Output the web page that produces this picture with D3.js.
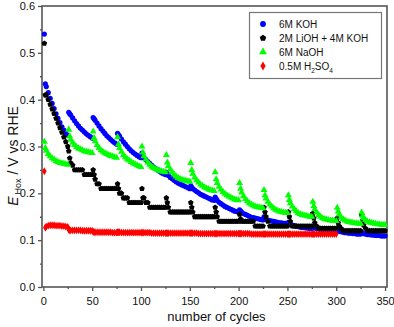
<!DOCTYPE html>
<html>
<head>
<meta charset="utf-8">
<script src="https://cdn.jsdelivr.net/npm/d3@7"></script>
<style>
  body { margin: 0; background: #fff; }
  svg { display: block; font-family: "Liberation Sans", Arial, sans-serif; }
</style>
</head>
<body>
<div id="chart"></div>
<script>

// cycle number = segment start + offset (14 samples per 25-cycle segment)
var segStarts = [1, 26, 51, 76, 101, 126, 151, 176, 201, 226, 251, 276, 301, 326];
var segOffsets = [0, 1, 2, 4, 6, 8, 10, 12, 14, 16, 18, 20, 22, 24];

var xTicks = [0, 50, 100, 150, 200, 250, 300, 350];
var yTicks = [0, 0.1, 0.2, 0.3, 0.4, 0.5, 0.6];

// E_Hox (V vs RHE), one row per segment
var kohValues = [
  [0.540,0.434,0.428,0.415,0.403,0.392,0.381,0.370,0.360,0.351,0.342,0.335,0.329,0.324],
  [0.373,0.370,0.367,0.361,0.355,0.349,0.344,0.339,0.335,0.331,0.327,0.324,0.321,0.318],
  [0.362,0.359,0.356,0.350,0.344,0.338,0.333,0.328,0.323,0.319,0.315,0.311,0.308,0.305],
  [0.328,0.325,0.322,0.316,0.310,0.305,0.300,0.295,0.291,0.287,0.284,0.281,0.278,0.276],
  [0.286,0.280,0.276,0.272,0.268,0.264,0.260,0.256,0.253,0.250,0.247,0.244,0.242,0.240],
  [0.245,0.241,0.238,0.234,0.231,0.228,0.225,0.222,0.220,0.218,0.216,0.214,0.212,0.210],
  [0.216,0.213,0.210,0.207,0.204,0.201,0.198,0.196,0.194,0.192,0.190,0.188,0.186,0.185],
  [0.192,0.188,0.185,0.181,0.178,0.175,0.172,0.170,0.168,0.166,0.164,0.162,0.161,0.160],
  [0.165,0.162,0.160,0.157,0.155,0.153,0.151,0.149,0.148,0.147,0.146,0.145,0.144,0.143],
  [0.150,0.147,0.145,0.143,0.142,0.141,0.140,0.139,0.138,0.137,0.137,0.136,0.136,0.135],
  [0.138,0.136,0.134,0.132,0.131,0.130,0.129,0.128,0.127,0.127,0.126,0.126,0.125,0.125],
  [0.128,0.127,0.126,0.125,0.124,0.123,0.123,0.122,0.121,0.121,0.120,0.120,0.119,0.119],
  [0.122,0.120,0.119,0.118,0.117,0.116,0.116,0.115,0.115,0.114,0.114,0.113,0.113,0.113],
  [0.116,0.115,0.114,0.113,0.112,0.112,0.111,0.111,0.110,0.110,0.110,0.109,0.109,0.109]
];

var liohValues = [
  [0.520,0.410,0.410,0.400,0.390,0.380,0.370,0.360,0.350,0.340,0.330,0.320,0.310,0.300],
  [0.290,0.275,0.265,0.260,0.250,0.250,0.250,0.250,0.250,0.240,0.240,0.240,0.240,0.240],
  [0.250,0.240,0.230,0.220,0.220,0.210,0.210,0.210,0.210,0.210,0.210,0.210,0.210,0.210],
  [0.220,0.210,0.200,0.200,0.190,0.190,0.190,0.180,0.180,0.180,0.180,0.180,0.180,0.180],
  [0.210,0.190,0.190,0.180,0.180,0.170,0.170,0.170,0.170,0.170,0.170,0.170,0.170,0.170],
  [0.190,0.180,0.170,0.160,0.160,0.160,0.160,0.160,0.160,0.160,0.160,0.160,0.160,0.160],
  [0.180,0.170,0.160,0.150,0.150,0.150,0.150,0.150,0.150,0.150,0.150,0.150,0.150,0.150],
  [0.170,0.160,0.150,0.140,0.140,0.140,0.140,0.140,0.140,0.140,0.140,0.140,0.140,0.140],
  [0.155,0.145,0.140,0.140,0.140,0.140,0.140,0.140,0.140,0.130,0.130,0.130,0.130,0.130],
  [0.170,0.160,0.150,0.140,0.130,0.130,0.130,0.130,0.130,0.130,0.130,0.130,0.130,0.130],
  [0.160,0.150,0.140,0.130,0.130,0.130,0.130,0.130,0.130,0.130,0.130,0.130,0.130,0.130],
  [0.157,0.147,0.137,0.130,0.125,0.125,0.125,0.125,0.125,0.125,0.125,0.125,0.125,0.125],
  [0.147,0.137,0.130,0.125,0.120,0.120,0.120,0.120,0.120,0.120,0.120,0.120,0.120,0.120],
  [0.154,0.142,0.132,0.125,0.120,0.120,0.120,0.120,0.120,0.120,0.120,0.120,0.120,0.120]
];

var naohValues = [
  [0.310,0.297,0.291,0.284,0.279,0.275,0.272,0.269,0.267,0.265,0.264,0.263,0.262,0.261],
  [0.336,0.322,0.315,0.308,0.303,0.299,0.296,0.294,0.292,0.290,0.289,0.288,0.287,0.286],
  [0.332,0.318,0.311,0.303,0.297,0.292,0.289,0.286,0.284,0.282,0.280,0.279,0.277,0.276],
  [0.320,0.305,0.297,0.289,0.282,0.277,0.273,0.270,0.267,0.264,0.262,0.260,0.258,0.256],
  [0.300,0.287,0.279,0.272,0.266,0.261,0.257,0.254,0.252,0.250,0.248,0.247,0.246,0.245],
  [0.282,0.266,0.258,0.251,0.245,0.240,0.236,0.233,0.231,0.229,0.228,0.227,0.226,0.225],
  [0.265,0.250,0.242,0.234,0.228,0.223,0.219,0.216,0.213,0.211,0.209,0.207,0.206,0.205],
  [0.245,0.230,0.222,0.214,0.208,0.203,0.199,0.196,0.193,0.191,0.189,0.187,0.186,0.185],
  [0.222,0.210,0.202,0.194,0.188,0.183,0.179,0.176,0.174,0.172,0.171,0.170,0.169,0.168],
  [0.207,0.196,0.189,0.182,0.176,0.172,0.168,0.165,0.163,0.161,0.160,0.159,0.158,0.158],
  [0.196,0.186,0.179,0.172,0.166,0.162,0.158,0.156,0.154,0.153,0.152,0.151,0.150,0.150],
  [0.182,0.173,0.166,0.159,0.154,0.150,0.147,0.145,0.144,0.143,0.142,0.142,0.141,0.141],
  [0.169,0.161,0.155,0.149,0.145,0.142,0.140,0.139,0.138,0.137,0.136,0.136,0.135,0.135],
  [0.159,0.152,0.147,0.143,0.140,0.138,0.137,0.136,0.135,0.134,0.134,0.133,0.133,0.133]
];

// H2SO4 run stops at cycle 300
var h2so4Values = [
  [0.247,0.127,0.129,0.131,0.132,0.132,0.132,0.131,0.131,0.131,0.130,0.130,0.129,0.128],
  [0.122,0.121,0.121,0.121,0.121,0.121,0.121,0.121,0.120,0.120,0.120,0.120,0.120,0.120],
  [0.118,0.117,0.117,0.117,0.117,0.117,0.117,0.117,0.117,0.117,0.117,0.116,0.116,0.116],
  [0.117,0.117,0.117,0.116,0.116,0.116,0.116,0.116,0.116,0.116,0.116,0.116,0.116,0.116],
  [0.116,0.116,0.116,0.116,0.116,0.116,0.115,0.115,0.115,0.115,0.115,0.115,0.115,0.115],
  [0.115,0.115,0.115,0.115,0.115,0.115,0.115,0.115,0.115,0.115,0.115,0.115,0.115,0.115],
  [0.115,0.115,0.115,0.115,0.115,0.114,0.114,0.114,0.114,0.114,0.114,0.114,0.114,0.114],
  [0.114,0.114,0.114,0.114,0.114,0.114,0.114,0.114,0.114,0.114,0.114,0.114,0.114,0.114],
  [0.114,0.114,0.114,0.114,0.114,0.114,0.114,0.113,0.113,0.113,0.113,0.113,0.113,0.113],
  [0.113,0.113,0.113,0.113,0.113,0.113,0.113,0.113,0.113,0.113,0.113,0.113,0.113,0.113],
  [0.113,0.113,0.113,0.113,0.113,0.113,0.113,0.113,0.113,0.113,0.113,0.113,0.113,0.113],
  [0.113,0.113,0.113,0.113,0.113,0.113,0.113,0.113,0.113,0.113,0.113,0.113,0.113,0.113]
];

// pentagon marker (not in d3's symbol set)
var symbolPentagon = {
  draw: function(context, size) {
    var r = Math.sqrt(size / 2.378);
    for (var i = 0; i < 5; i++) {
      var a = -Math.PI / 2 + i * 2 * Math.PI / 5;
      if (i === 0) context.moveTo(r * Math.cos(a), r * Math.sin(a));
      else context.lineTo(r * Math.cos(a), r * Math.sin(a));
    }
    context.closePath();
  }
};

var series = [
  {name: "6M KOH", values: kohValues, color: "#0000ff", symbol: d3.symbolCircle, size: 21},
  {name: "2M LiOH + 4M KOH", values: liohValues, color: "#000000", symbol: symbolPentagon, size: 21},
  {name: "6M NaOH", values: naohValues, color: "#00ff00", symbol: d3.symbolTriangle, size: 21},
  {name: "0.5M H2SO4", values: h2so4Values, color: "#ff0000", symbol: d3.symbolDiamond, size: 18}
];

var W = 394, H = 327;
var plot = {left: 42, right: 387, top: 6, bottom: 287};

var svg = d3.select("#chart")
  .append("svg")
    .attr("width", W)
    .attr("height", H);

var x = d3.scaleLinear()
  .domain([-1.4, 352])
  .range([plot.left, plot.right]);

var y = d3.scaleLinear()
  .domain([0, 0.6])
  .range([plot.bottom, plot.top]);

var axisColor = "#555";

// X axis (major + minor ticks, outward)
svg.append("g")
  .attr("transform", "translate(0," + plot.bottom + ")")
  .call(d3.axisBottom(x).tickValues(xTicks).tickSize(4).tickPadding(6).tickFormat(d3.format("d")));
svg.append("g")
  .attr("transform", "translate(0," + plot.bottom + ")")
  .call(d3.axisBottom(x).tickValues(d3.range(25, 351, 50)).tickSize(2).tickFormat(""));

// Y axis
svg.append("g")
  .attr("transform", "translate(" + plot.left + ",0)")
  .call(d3.axisLeft(y).tickValues(yTicks).tickSize(4).tickPadding(3).tickFormat(d3.format(".1f")));
svg.append("g")
  .attr("transform", "translate(" + plot.left + ",0)")
  .call(d3.axisLeft(y).tickValues([0.05, 0.15, 0.25, 0.35, 0.45, 0.55]).tickSize(2).tickFormat(""));

svg.selectAll(".domain").remove();
svg.selectAll(".tick line").attr("stroke", axisColor).attr("stroke-width", 1.3);
svg.selectAll(".tick text")
  .attr("fill", "#111")
  .style("font-size", "11px")
  .style("font-family", "'Liberation Sans', Arial, sans-serif");

// frame
svg.append("rect")
  .attr("x", plot.left)
  .attr("y", plot.top)
  .attr("width", plot.right - plot.left)
  .attr("height", plot.bottom - plot.top)
  .attr("fill", "none")
  .attr("stroke", axisColor)
  .attr("stroke-width", 1.6);

// Points
series.forEach(function(s) {
  var pts = [];
  s.values.forEach(function(row, i) {
    row.forEach(function(v, j) {
      pts.push({c: segStarts[i] + segOffsets[j], v: v});
    });
  });
  svg.append("g")
    .selectAll("path")
    .data(pts)
    .enter()
    .append("path")
      .attr("transform", function(d) { return "translate(" + x(d.c) + "," + y(d.v) + ")"; })
      .attr("d", d3.symbol().type(s.symbol).size(s.size))
      .attr("fill", s.color);
});

// Legend
var legend = svg.append("g");
legend.append("rect")
  .attr("x", 249.5)
  .attr("y", 12.5)
  .attr("width", 132)
  .attr("height", 66)
  .attr("fill", "#fff")
  .attr("stroke", "#777")
  .attr("stroke-width", 1.2);

series.forEach(function(s, i) {
  var ly = 24 + i * 14;
  legend.append("path")
    .attr("transform", "translate(263," + ly + ")")
    .attr("d", d3.symbol().type(s.symbol).size(s.size + 6))
    .attr("fill", s.color);
  var t = legend.append("text")
    .attr("x", 279)
    .attr("y", ly + 3.5)
    .style("font-size", "10px")
    .attr("fill", "#111");
  if (s.name === "0.5M H2SO4") {
    t.append("tspan").text("0.5M H");
    t.append("tspan").attr("dy", 3).style("font-size", "6.5px").text("2");
    t.append("tspan").attr("dy", -3).text("SO");
    t.append("tspan").attr("dy", 3).style("font-size", "6.5px").text("4");
  } else {
    t.text(s.name);
  }
});

// Axis titles
svg.append("text")
  .attr("x", (plot.left + plot.right) / 2 + 2)
  .attr("y", 321)
  .attr("text-anchor", "middle")
  .style("font-size", "13px")
  .attr("fill", "#111")
  .text("number of cycles");

var yl = svg.append("text")
  .attr("transform", "translate(18,156) rotate(-90)")
  .attr("text-anchor", "middle")
  .style("font-size", "14px")
  .attr("fill", "#111");
yl.append("tspan").style("font-style", "italic").text("E");
yl.append("tspan").attr("dx", 2).attr("dy", 3).style("font-size", "9px").text("Hox");
yl.append("tspan").attr("dy", -3).text(" / V vs RHE");

</script>
</body>
</html>
